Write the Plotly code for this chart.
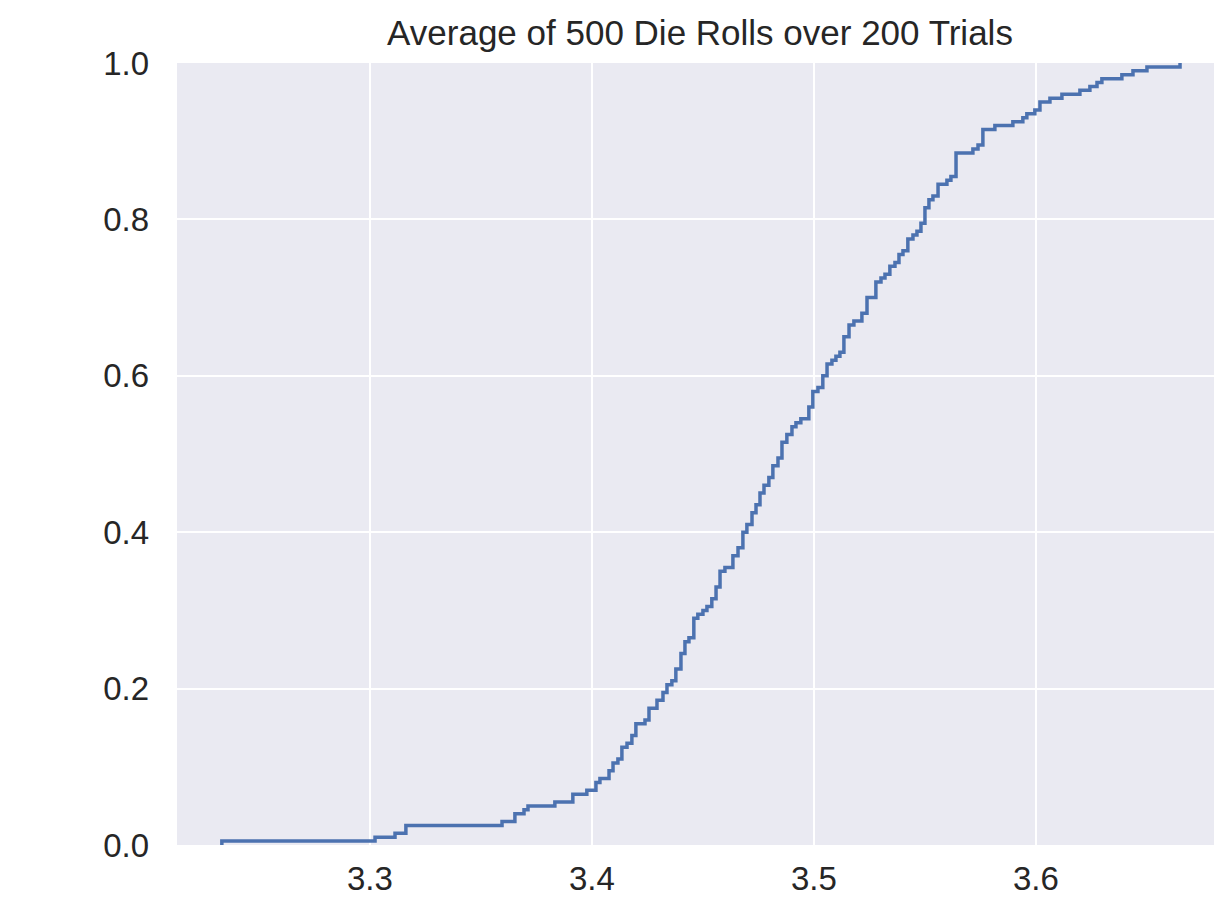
import plotly.graph_objects as go

# Empirical CDF of the mean of 500 die rolls, one value per trial (200 trials).
# Each entry: a distinct trial average and the cumulative proportion reached there.
trial_means = [
    3.2333, 3.3023, 3.3113, 3.3162, 3.3595, 3.3653, 3.3694, 3.3712, 3.3833, 3.3914,
    3.3977, 3.4018, 3.4036, 3.4077, 3.4095, 3.4117, 3.4135, 3.4158, 3.4180, 3.4198,
    3.4239, 3.4257, 3.4293, 3.4320, 3.4338, 3.4360, 3.4378, 3.4401, 3.4419, 3.4437,
    3.4459, 3.4477, 3.4500, 3.4518, 3.4540, 3.4559, 3.4577, 3.4599, 3.4635, 3.4658,
    3.4680, 3.4698, 3.4721, 3.4739, 3.4757, 3.4775, 3.4797, 3.4815, 3.4838, 3.4856,
    3.4878, 3.4901, 3.4919, 3.4941, 3.4977, 3.4995, 3.5018, 3.5040, 3.5059, 3.5081,
    3.5099, 3.5117, 3.5135, 3.5158, 3.5180, 3.5216, 3.5239, 3.5279, 3.5302, 3.5320,
    3.5342, 3.5365, 3.5383, 3.5401, 3.5423, 3.5446, 3.5464, 3.5482, 3.5500, 3.5518,
    3.5536, 3.5559, 3.5599, 3.5617, 3.5640, 3.5716, 3.5739, 3.5761, 3.5815, 3.5896,
    3.5941, 3.5959, 3.5995, 3.6018, 3.6063, 3.6117, 3.6198, 3.6243, 3.6275, 3.6297,
    3.6387, 3.6437, 3.6500, 3.6649,
]
cum_proportion = [
    0.005, 0.010, 0.015, 0.025, 0.030, 0.040, 0.045, 0.050, 0.055, 0.065,
    0.070, 0.080, 0.085, 0.095, 0.105, 0.110, 0.125, 0.130, 0.140, 0.155,
    0.160, 0.175, 0.185, 0.195, 0.205, 0.210, 0.225, 0.245, 0.260, 0.265,
    0.290, 0.295, 0.300, 0.305, 0.315, 0.330, 0.350, 0.355, 0.370, 0.380,
    0.400, 0.410, 0.425, 0.435, 0.450, 0.460, 0.470, 0.485, 0.495, 0.515,
    0.525, 0.535, 0.540, 0.545, 0.560, 0.580, 0.585, 0.600, 0.615, 0.620,
    0.625, 0.630, 0.650, 0.665, 0.670, 0.680, 0.700, 0.720, 0.725, 0.730,
    0.740, 0.745, 0.755, 0.760, 0.775, 0.780, 0.785, 0.795, 0.815, 0.825,
    0.830, 0.845, 0.850, 0.855, 0.885, 0.890, 0.895, 0.915, 0.920, 0.925,
    0.930, 0.935, 0.940, 0.950, 0.955, 0.960, 0.965, 0.970, 0.975, 0.980,
    0.985, 0.990, 0.995, 1.000,
]

x_ticks = [3.3, 3.4, 3.5, 3.6]
y_ticks = [0.0, 0.2, 0.4, 0.6, 0.8, 1.0]

# steps-post: the line starts at 0 right at the smallest mean
xs = [trial_means[0]] + trial_means
ys = [0.0] + cum_proportion

FONT = "Liberation Sans, Arial, Helvetica, sans-serif"
INK = "#262626"

fig = go.Figure(
    go.Scatter(
        x=xs, y=ys, mode="lines", line_shape="hv",
        line=dict(color="#4C72B0", width=3.5),
        hoverinfo="skip", showlegend=False,
    )
)

fig.update_layout(
    width=1214, height=905,
    margin=dict(l=177, r=0, t=63, b=60),
    paper_bgcolor="white",
    plot_bgcolor="#EAEAF2",
    font=dict(family=FONT, color=INK, size=33),
    title=dict(
        text="Average of 500 Die Rolls over 200 Trials",
        x=700 / 1214, xanchor="center",
        y=1 - 33 / 905, yanchor="middle",
        font=dict(family=FONT, size=35, color=INK),
    ),
)
fig.update_xaxes(
    range=[3.2131, 3.6802],
    tickvals=x_ticks, tickformat=".1f",
    showgrid=True, gridcolor="white", gridwidth=2,
    zeroline=False, showline=False, ticks="",
    ticklabelstandoff=11,
)
fig.update_yaxes(
    range=[0, 1],
    tickvals=y_ticks, tickformat=".1f",
    showgrid=True, gridcolor="white", gridwidth=2,
    zeroline=False, showline=False, ticks="",
    ticklabelstandoff=27,
)

fig.write_html("out.html")
